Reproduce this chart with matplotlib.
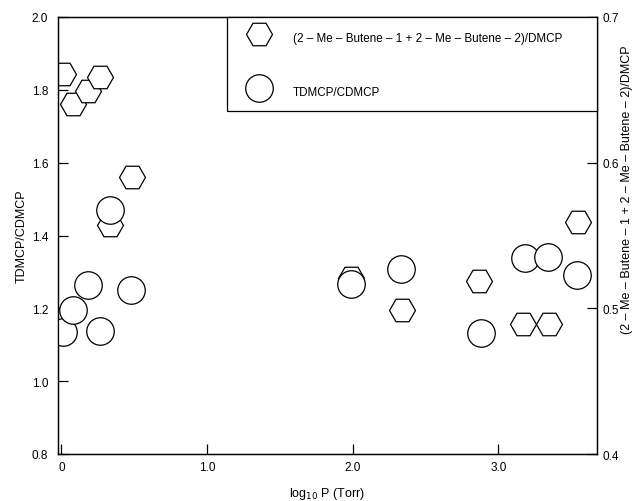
import matplotlib
matplotlib.use("Agg")
import matplotlib.pyplot as plt

plt.rcParams['font.family'] = ['Liberation Sans', 'DejaVu Sans']
plt.rcParams['font.size'] = 8.5

# log10 P (Torr) and TDMCP/CDMCP  (circles, left axis)
circ_x = [0.011, 0.080, 0.183, 0.262, 0.334, 0.478, 1.988, 2.332, 2.881, 3.180, 3.344, 3.540]
circ_y = [1.135, 1.195, 1.263, 1.139, 1.470, 1.250, 1.267, 1.309, 1.131, 1.337, 1.341, 1.292]

# log10 P (Torr) and (2-Me-Butene-1 + 2-Me-Butene-2)/DMCP  (hexagons, right axis)
hex_x = [0.011, 0.080, 0.183, 0.268, 0.334, 0.485, 1.988, 2.335, 2.867, 3.166, 3.348, 3.550]
hex_y = [0.661, 0.640, 0.649, 0.659, 0.557, 0.590, 0.521, 0.499, 0.519, 0.489, 0.489, 0.559]

hex_label = "(2 \u2013 Me \u2013 Butene \u2013 1 + 2 \u2013 Me \u2013 Butene \u2013 2)/DMCP"
circ_label = "TDMCP/CDMCP"

fig = plt.figure(figsize=(6.37, 5.02), dpi=100)
ax = fig.add_axes([58/637, 1-455/502, 539/637, 437/502])
ax2 = ax.twinx()

# circles drawn over the hexagons
ax.set_zorder(ax2.get_zorder() + 1)
ax.patch.set_visible(False)

h_hex, = ax2.plot(hex_x, hex_y, linestyle='none', marker='H', markersize=18.7,
                  markerfacecolor='white', markeredgecolor='black', markeredgewidth=0.9)
h_circ, = ax.plot(circ_x, circ_y, linestyle='none', marker='o', markersize=19.8,
                  markerfacecolor='white', markeredgecolor='black', markeredgewidth=0.9)

ax.set_xlim(-0.023, 3.677)
ax.set_ylim(0.8, 2.0)
ax2.set_ylim(0.4, 0.7)

ax.set_xticks([0, 1, 2, 3])
ax.set_xticklabels(['0', '1.0', '2.0', '3.0'])
ax.set_yticks([0.8, 1.0, 1.2, 1.4, 1.6, 1.8, 2.0])
ax.set_yticklabels(['0.8', '1.0', '1.2', '1.4', '1.6', '1.8', '2.0'])
ax2.set_yticks([0.4, 0.5, 0.6, 0.7])
ax2.set_yticklabels(['0.4', '0.5', '0.6', '0.7'])

ax.tick_params(axis='x', direction='in', length=7, width=0.9, pad=5)
ax.tick_params(axis='y', direction='in', length=7, width=0.9, pad=7)
ax2.tick_params(axis='y', direction='in', length=7, width=0.9, pad=4)

for a in (ax, ax2):
    for s in a.spines.values():
        s.set_linewidth(0.9)

ax.set_xlabel('log$_{10}$ P (Torr)', fontsize=9, labelpad=9)
ax.set_ylabel('TDMCP/CDMCP', fontsize=9, labelpad=3)
fig.text(627/637, 1-190/502, hex_label, rotation=90, ha='center', va='center', fontsize=9)

leg = ax.legend([h_hex, h_circ], [hex_label, circ_label], fontsize=8.4,
                loc='upper left', bbox_to_anchor=(169/539, 0, 370/539, 1.0),
                mode='expand', borderaxespad=0, fancybox=False, framealpha=1,
                edgecolor='black', numpoints=1, markerscale=1,
                handleheight=2, handlelength=3.58, handletextpad=1.12,
                labelspacing=3.08, borderpad=0.95)
leg.get_frame().set_linewidth(0.9)

fig.savefig('out.png', dpi=100)
